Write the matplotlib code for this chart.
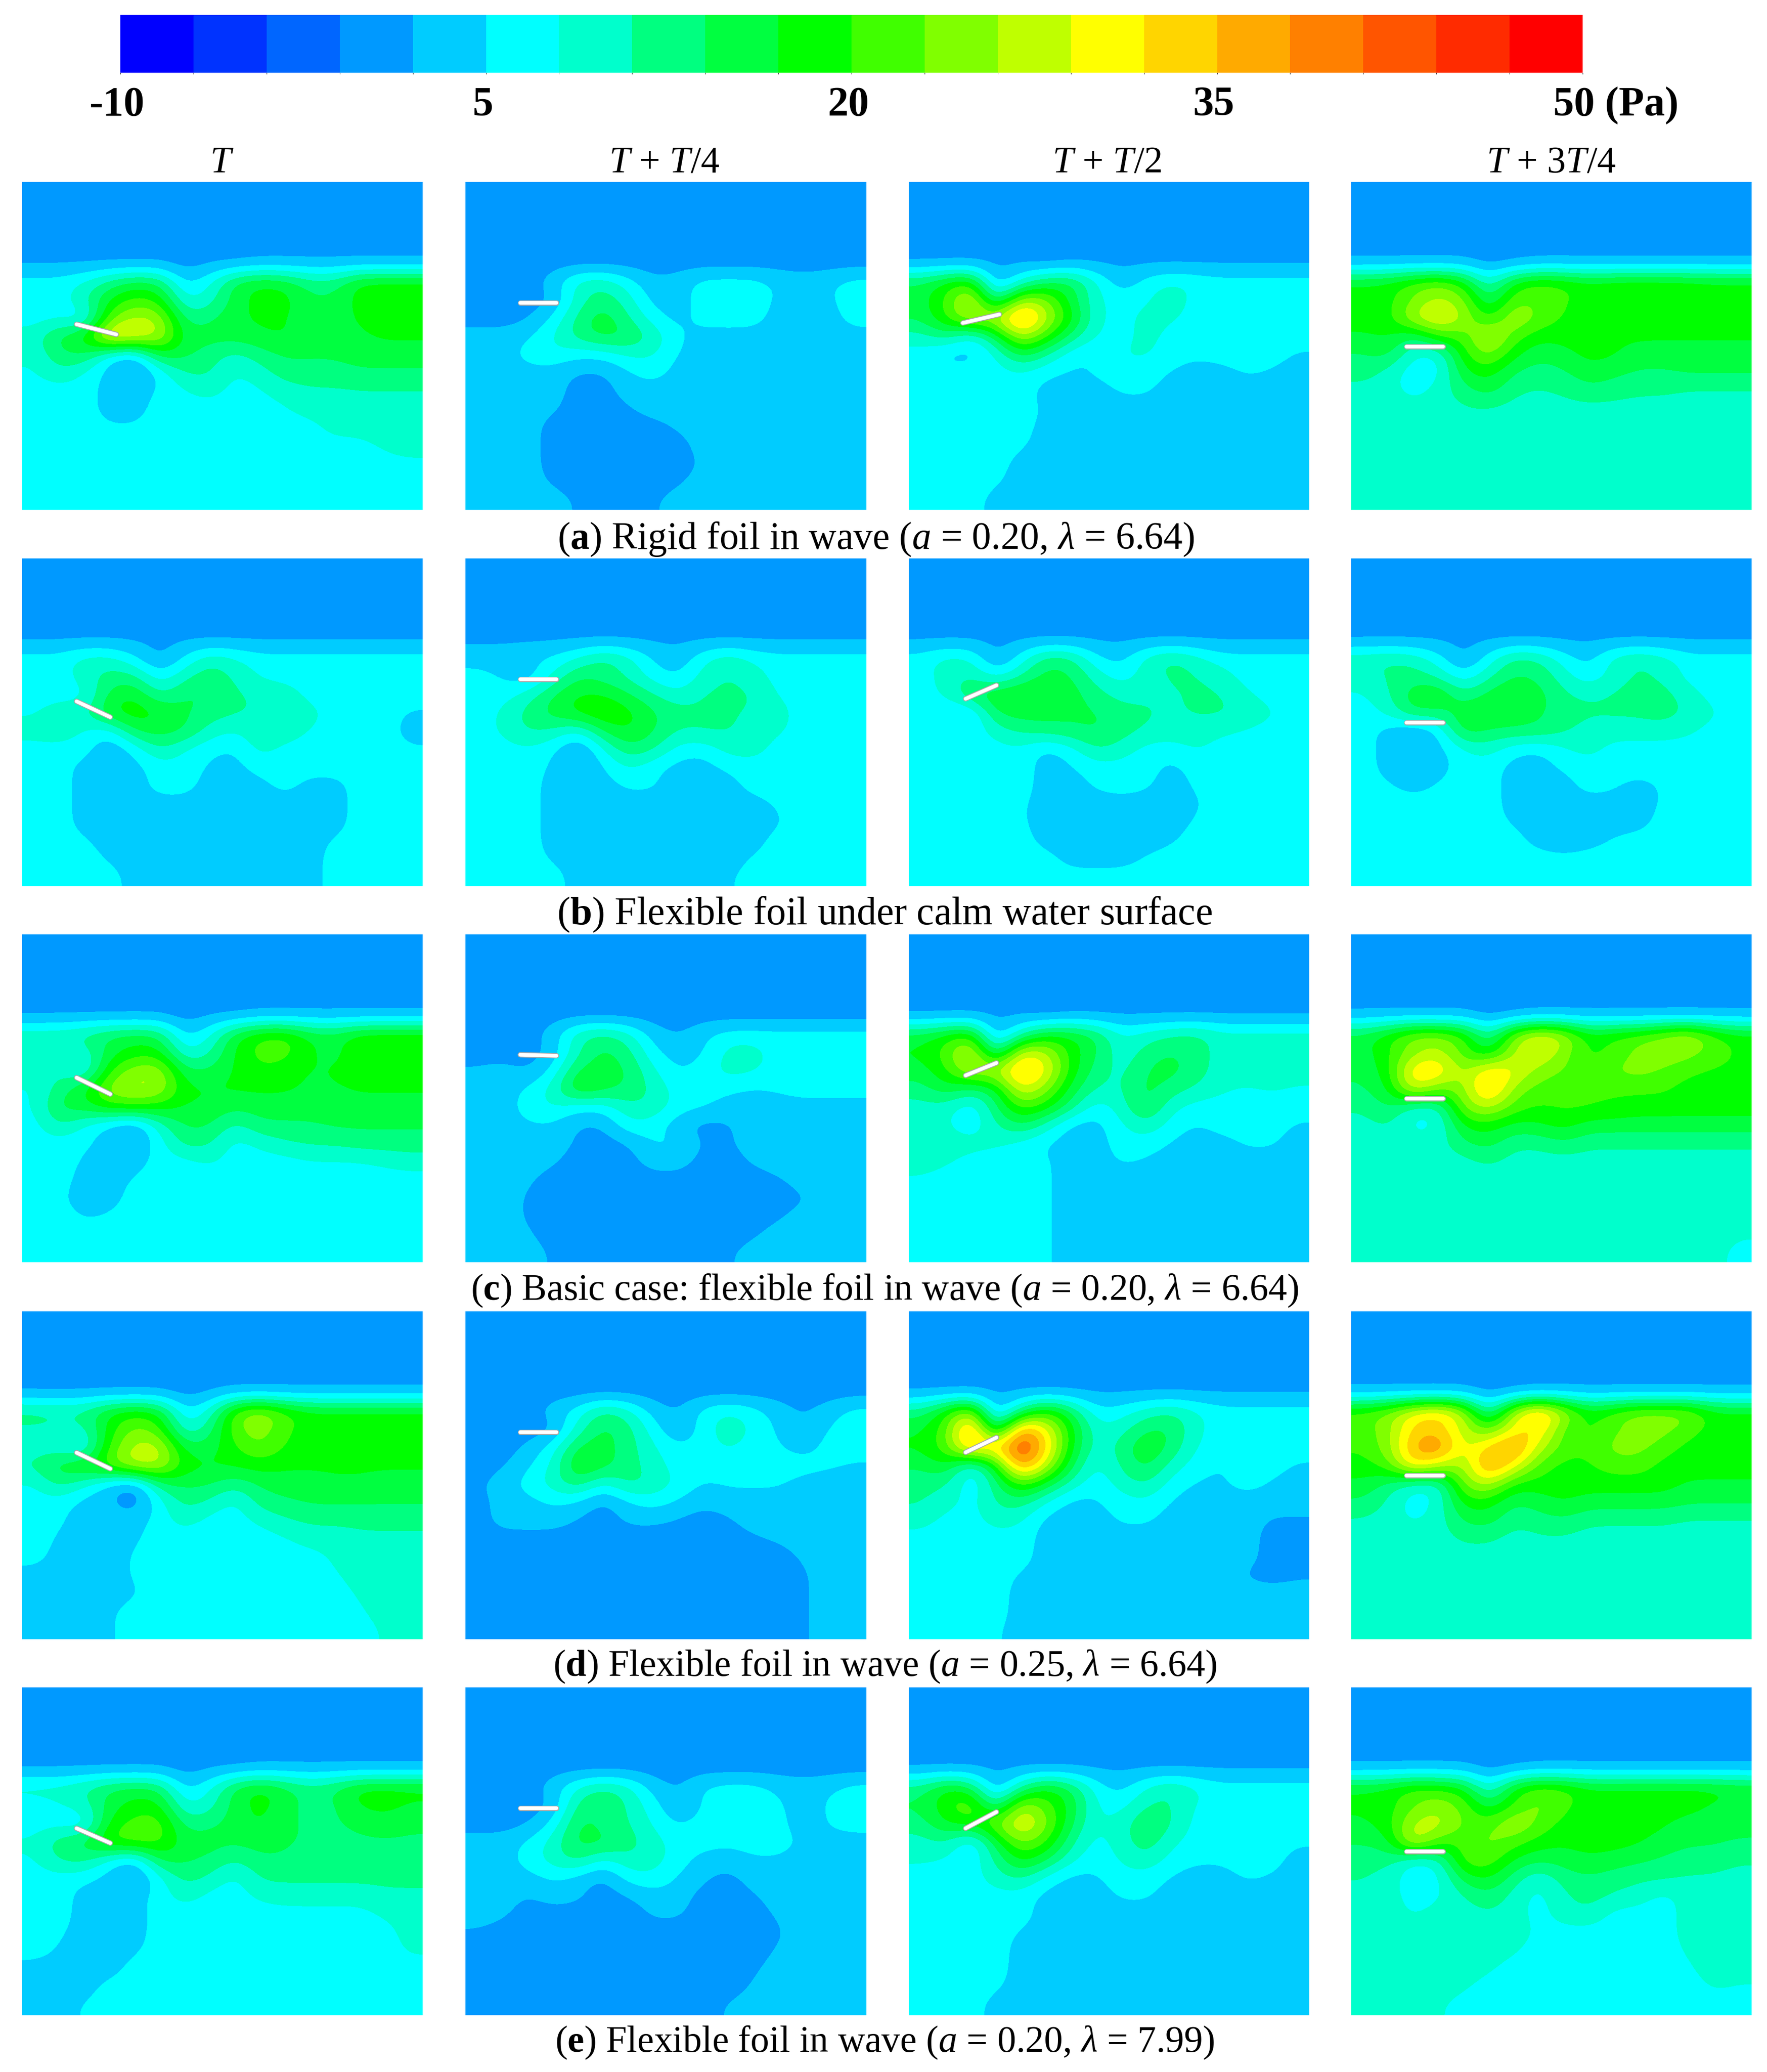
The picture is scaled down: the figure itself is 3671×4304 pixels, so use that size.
import numpy as np
import matplotlib
matplotlib.use("Agg")
import matplotlib.pyplot as plt
from matplotlib.colors import ListedColormap, BoundaryNorm
from matplotlib.cm import ScalarMappable

plt.rcParams['font.family'] = ['Liberation Serif', 'DejaVu Serif']
plt.rcParams['mathtext.fontset'] = 'custom'
plt.rcParams['mathtext.rm'] = 'Liberation Serif'
plt.rcParams['mathtext.it'] = 'Liberation Serif:italic'
plt.rcParams['mathtext.bf'] = 'Liberation Serif:bold'

W, H = 3671, 4304

band_colors = ['#0000ff', '#0033ff', '#0066ff', '#0099ff', '#00ccff', '#00ffff', '#00ffcc',
               '#00ff80', '#00ff40', '#00ff00', '#40ff00', '#80ff00', '#bfff00', '#ffff00',
               '#ffd500', '#ffaa00', '#ff8000', '#ff5500', '#ff2b00', '#ff0000']
levels = np.arange(-10, 51, 3)
tick_values = [-10, 5, 20, 35, 50]
tick_labels = ['-10', '5', '20', '35', '50 (Pa)']

col_titles = [r'$\mathit{T}$', r'$\mathit{T}$ + $\mathit{T}$/4', r'$\mathit{T}$ + $\mathit{T}$/2', r'$\mathit{T}$ + 3$\mathit{T}$/4']
captions = [r'($\mathbf{a}$) Rigid foil in wave ($\mathit{a}$ = 0.20, $\mathit{λ}$ = 6.64)',
            r'($\mathbf{b}$) Flexible foil under calm water surface',
            r'($\mathbf{c}$) Basic case: flexible foil in wave ($\mathit{a}$ = 0.20, $\mathit{λ}$ = 6.64)',
            r'($\mathbf{d}$) Flexible foil in wave ($\mathit{a}$ = 0.25, $\mathit{λ}$ = 6.64)',
            r'($\mathbf{e}$) Flexible foil in wave ($\mathit{a}$ = 0.20, $\mathit{λ}$ = 7.99)']

# pressure (Pa), water part only, 16 columns x 14 rows
a_T = [[1,1,1,1,1,1,0,1,1,2,2,2,2,2,2,2],
       [6,6,8,12,15,14,3,7,15,17,16,12,12,18,18,18],
       [6,6,10,17,21,19,7,9,15,18,18,14,14,18,19,19],
       [6,7,4,22,27,26,12,13,16,17,17,14,15,17,18,18],
       [9,15,18,33,30,27,15,15,15,16,17,15,15,16,17,17],
       [8,13,14,5,2,16,14,12,9,12,14,14,14,15,15,15],
       [7,10,7,3,-1,5,11,11,7,9,12,12,12,13,13,13],
       [6,6,6,3,3,5,7,9,6,7,9,10,10,10,10,10],
       [6,6,6,3,3,6,6,6,6,6,7,9,9,10,10,10],
       [6,6,6,5,5,6,6,6,6,6,6,6,9,9,10,10],
       [6,6,6,6,6,6,6,6,6,6,6,6,6,6,8,10],
       [6,6,6,6,6,6,6,6,6,6,6,6,6,6,6,6],
       [6,6,6,6,6,6,6,6,6,6,6,6,6,6,6,6],
       [6,6,6,6,6,6,6,6,6,6,6,6,6,6,6,6]]
a_T4 = [[0,0,0,0,0,0,0,0,0,0,0,0,0,0,0,0],
        [0,0,0,3,9,10,6,2,3,6,6,6,4,3,4,6],
        [0,0,0,1,9,13,9,3,3,6,6,6,4,3,4,6],
        [0,0,1,5,12,16,11,6,3,6,6,6,3,3,3,6],
        [3,3,4,8,12,15,14,10,5,3,3,3,3,3,3,3],
        [3,3,6,7,5,5,8,8,4,3,3,3,3,3,3,3],
        [3,3,3,3,1,1,4,6,3,3,3,3,3,3,3,3],
        [3,3,3,3,0,0,3,3,3,3,3,3,3,3,3,3],
        [3,3,3,2,0,0,1,3,3,3,3,3,3,3,3,3],
        [3,3,3,0,0,0,0,0,2,3,3,3,3,3,3,3],
        [3,3,3,0,0,0,0,0,0,3,3,3,3,3,3,3],
        [3,3,3,0,0,0,0,0,0,2,3,3,3,3,3,3],
        [3,3,3,1,0,0,0,0,1,3,3,3,3,3,3,3],
        [3,3,3,3,1,0,0,1,3,3,3,3,3,3,3,3]]
a_T2 = [[1,1,1,1,1,0,1,1,1,1,1,1,1,1,1,1],
        [14,18,21,0,8,14,15,8,2,6,8,7,6,6,6,6],
        [15,20,30,9,27,24,15,8,6,7,10,6,6,6,6,6],
        [14,20,27,27,39,27,18,8,6,9,8,6,6,6,6,6],
        [9,12,5,14,27,20,12,7,6,9,6,6,6,6,6,6],
        [6,3,3,7,15,10,5,4,8,8,6,5,6,6,6,4],
        [6,6,6,6,7,5,4,5,6,6,4,3,3,5,4,3],
        [6,6,6,6,6,3,3,3,5,5,3,3,3,3,3,3],
        [6,6,6,6,6,4,3,3,3,3,3,3,3,3,3,3],
        [6,6,6,6,6,3,3,3,3,3,3,3,3,3,3,3],
        [6,6,6,6,5,3,3,3,3,3,3,3,3,3,3,3],
        [6,6,6,6,3,3,3,3,3,3,3,3,3,3,3,3],
        [6,6,6,5,3,3,3,3,3,3,3,3,3,3,3,3],
        [6,6,6,3,3,3,3,3,3,3,3,3,3,3,3,3]]
a_3T4 = [[2,2,2,2,2,0,1,2,2,2,2,2,2,2,2,2],
         [17,18,21,23,19,7,18,21,20,18,19,19,19,19,18,18],
         [18,18,23,27,24,12,22,22,20,18,19,19,19,18,18,18],
         [18,18,27,31,26,18,27,22,19,18,18,18,18,18,18,18],
         [16,17,12,20,20,29,21,17,18,18,17,17,17,17,17,17],
         [13,15,7,6,19,24,17,14,15,18,17,15,15,15,15,15],
         [12,9,5,6,16,18,13,12,13,15,14,13,13,14,14,14],
         [9,9,6,9,12,15,11,10,11,13,12,11,11,10,10,10],
         [9,9,9,9,10,10,9,9,9,9,9,9,9,9,9,9],
         [9,9,9,9,9,9,9,9,9,9,9,9,9,9,9,9],
         [9,9,9,9,9,9,9,9,9,9,9,9,9,9,9,9],
         [9,9,9,9,9,9,9,9,9,9,9,9,9,9,9,9],
         [9,9,9,9,9,9,9,9,9,9,9,9,9,9,9,9],
         [9,9,9,9,9,9,9,9,9,9,9,9,9,9,9,9]]

b_T = [[1,1,1,1,1,1,1,1,1,1,1,1,1,1,1,1],
       [6,6,9,9,5,0,5,10,8,6,6,6,6,6,6,6],
       [6,6,9,12,12,5,10,13,10,7,6,6,6,6,6,6],
       [6,6,6,15,17,10,14,14,11,10,10,6,6,6,6,6],
       [7,10,10,17,19,17,14,12,11,10,10,9,6,6,6,4],
       [9,10,7,5,14,15,14,9,7,10,10,7,6,6,6,3],
       [6,6,6,1,5,11,7,5,4,9,6,6,6,6,6,5],
       [6,6,3,3,3,6,6,4,3,6,6,6,6,6,6,6],
       [6,6,3,3,3,6,6,3,3,3,6,3,3,6,6,6],
       [6,6,3,3,3,3,3,3,3,3,3,3,3,6,6,6],
       [6,6,3,3,3,3,3,3,3,3,3,3,3,6,6,6],
       [6,6,5,3,3,3,3,3,3,3,3,3,5,6,6,6],
       [6,6,6,4,3,3,3,3,3,3,3,3,6,6,6,6],
       [6,6,6,6,3,3,3,3,3,3,3,3,6,6,6,6]]
b_T4 = [[1,1,1,1,1,1,1,1,1,1,1,1,1,1,1,1],
        [3,3,4,5,8,12,9,4,2,7,10,7,6,6,6,6],
        [6,4,2,8,14,12,10,6,4,9,11,9,6,6,6,6],
        [6,6,9,14,17,17,14,11,8,11,11,11,7,6,6,6],
        [6,8,12,15,18,20,18,14,12,11,11,10,9,6,6,6],
        [6,8,11,10,6,14,17,14,10,11,11,9,8,6,6,6],
        [6,6,7,5,0,7,13,11,6,5,9,9,6,6,6,6],
        [6,6,6,4,1,4,8,5,3,3,5,6,6,6,6,6],
        [6,6,6,3,3,3,5,5,3,3,3,6,6,6,6,6],
        [6,6,6,3,3,3,3,3,3,3,3,3,5,6,6,6],
        [6,6,6,3,3,3,3,3,3,3,3,3,4,6,6,6],
        [6,6,6,3,3,3,3,3,3,3,3,3,6,6,6,6],
        [6,6,6,4,3,3,3,3,3,3,3,5,6,6,6,6],
        [6,6,6,6,3,3,3,3,3,3,4,6,6,6,6,6]]
b_T2 = [[1,1,1,1,1,1,1,1,1,1,1,1,1,1,1,1],
        [6,9,8,0,6,13,12,5,3,9,12,9,6,6,6,6],
        [6,9,11,6,11,15,14,9,6,9,11,11,9,6,6,6],
        [6,8,14,17,18,17,15,12,9,10,10,11,11,8,6,6],
        [6,4,3,14,15,15,14,14,12,11,10,11,11,10,8,6],
        [6,5,5,9,11,12,13,14,12,10,9,9,8,7,6,6],
        [6,6,6,6,7,3,6,11,9,6,6,8,6,6,6,6],
        [6,6,6,6,6,3,4,6,6,6,3,6,6,6,6,6],
        [6,6,6,6,6,3,3,5,6,5,3,5,6,6,6,6],
        [6,6,6,6,5,3,3,3,3,3,3,4,6,6,6,6],
        [6,6,6,6,5,3,3,3,3,3,3,5,6,6,6,6],
        [6,6,6,6,6,3,3,3,3,3,4,6,6,6,6,6],
        [6,6,6,6,6,6,3,3,3,5,6,6,6,6,6,6],
        [6,6,6,6,6,6,6,6,6,6,6,6,6,6,6,6]]
b_3T4 = [[1,1,1,1,1,1,1,1,1,1,1,1,1,1,1,1],
         [10,11,10,6,0,6,12,11,6,3,9,11,9,6,6,6],
         [9,11,12,10,5,10,14,13,9,5,9,11,10,6,6,6],
         [7,10,16,18,11,15,17,15,11,10,11,12,12,9,6,6],
         [6,8,14,12,16,17,16,14,12,11,11,11,12,10,8,6],
         [6,3,0,4,16,13,13,13,11,9,9,9,9,8,6,6],
         [6,3,3,3,7,9,5,4,7,9,6,6,6,6,6,6],
         [6,3,3,3,6,6,3,3,5,6,6,6,6,6,6,6],
         [6,5,3,5,6,6,3,3,3,6,5,3,5,6,6,6],
         [6,6,6,6,6,6,3,3,3,3,3,3,5,6,6,6],
         [6,6,6,6,6,6,4,3,3,3,3,3,6,6,6,6],
         [6,6,6,6,6,6,6,3,3,3,5,6,6,6,6,6],
         [6,6,6,6,6,6,6,6,5,6,6,6,6,6,6,6],
         [6,6,6,6,6,6,6,6,6,6,6,6,6,6,6,6]]

c_T = [[1,1,1,1,1,1,0,1,1,2,2,2,2,2,2,2],
       [10,10,12,14,15,14,3,7,16,20,21,16,15,19,19,19],
       [10,10,8,15,18,18,7,10,17,21,21,17,15,19,19,19],
       [9,10,5,20,25,26,14,14,17,19,18,16,17,18,18,18],
       [7,12,17,25,27,26,17,17,17,17,17,16,16,17,17,17],
       [7,15,15,19,19,18,16,16,14,15,15,15,15,15,15,15],
       [6,11,7,3,0,9,14,14,9,13,13,13,14,14,14,14],
       [6,6,5,3,1,6,12,11,6,8,10,11,11,12,12,12],
       [6,6,4,3,3,6,6,8,6,6,6,7,7,7,8,9],
       [6,6,3,3,5,6,6,6,6,6,6,6,6,6,6,6],
       [6,5,3,3,6,6,6,6,6,6,6,6,6,6,6,6],
       [6,6,4,5,6,6,6,6,6,6,6,6,6,6,6,6],
       [6,6,6,6,6,6,6,6,6,6,6,6,6,6,6,6],
       [6,6,6,6,6,6,6,6,6,6,6,6,6,6,6,6]]
c_T4 = [[0,0,0,0,0,0,0,0,0,0,0,0,0,0,0,0],
        [0,0,0,3,10,12,9,3,1,4,6,6,6,6,6,6],
        [0,0,0,2,10,15,12,5,3,4,9,9,6,6,6,6],
        [2,3,1,5,15,15,14,8,4,6,9,8,6,6,6,6],
        [3,3,5,9,18,15,13,10,6,6,5,4,5,6,6,6],
        [3,3,6,8,5,5,10,10,6,5,3,3,3,3,3,3],
        [3,3,4,4,1,1,7,6,2,0,1,3,3,3,3,3],
        [3,3,3,3,1,0,1,5,5,1,1,3,3,3,3,3],
        [3,3,3,2,0,0,0,3,3,0,0,2,3,3,3,3],
        [3,3,2,0,0,0,0,0,0,0,0,0,1,3,3,3],
        [3,3,1,0,0,0,0,0,0,0,0,0,0,1,3,3],
        [3,3,1,0,0,0,0,0,0,0,0,0,1,3,3,3],
        [3,3,2,0,0,0,0,0,0,0,0,1,3,3,3,3],
        [3,3,3,1,0,0,0,0,0,0,1,3,3,3,3,3]]
c_T2 = [[1,1,1,1,1,0,1,1,1,1,1,1,1,1,1,1],
        [15,18,21,0,10,17,17,14,7,9,11,12,9,9,9,9],
        [17,21,30,9,30,27,18,14,8,12,14,12,9,9,9,9],
        [15,19,27,27,36,30,18,12,9,14,15,12,9,9,9,9],
        [12,16,12,15,30,24,15,10,10,15,12,10,8,7,8,7],
        [9,9,4,13,21,18,12,5,9,15,8,6,6,6,6,6],
        [9,8,5,10,14,9,3,3,7,10,6,4,6,6,6,4],
        [10,9,9,8,6,4,3,3,6,6,4,3,3,5,5,3],
        [9,8,6,6,6,5,3,3,5,4,3,3,3,3,3,3],
        [7,6,6,6,6,5,3,3,3,3,3,3,3,3,3,3],
        [6,6,6,6,6,5,3,3,3,3,3,3,3,3,3,3],
        [6,6,6,6,6,5,3,3,3,3,3,3,3,3,3,3],
        [6,6,6,6,6,5,3,3,3,3,3,3,3,3,3,3],
        [6,6,6,6,6,5,3,3,3,3,3,3,3,3,3,3]]
c_3T4 = [[2,2,2,2,2,0,1,2,2,2,2,2,2,2,2,2],
         [15,19,24,24,21,9,24,30,27,18,20,21,24,27,21,18],
         [15,19,24,27,21,15,26,30,24,18,20,24,25,24,21,19],
         [14,18,33,33,24,33,30,24,22,21,23,24,22,20,19,19],
         [13,16,30,22,24,36,24,21,21,20,20,20,20,18,18,18],
         [11,14,8,8,24,27,21,19,20,20,19,18,18,18,18,18],
         [9,11,6,7,17,18,15,16,18,15,15,15,15,15,15,15],
         [9,9,9,9,13,15,11,11,13,11,11,11,11,11,11,11],
         [9,9,9,9,9,11,9,9,9,9,9,9,9,9,9,9],
         [9,9,9,9,9,9,9,9,9,9,9,9,9,9,9,9],
         [9,9,9,9,9,9,9,9,9,9,9,9,9,9,9,9],
         [9,9,9,9,9,9,9,9,9,9,9,9,9,9,9,9],
         [9,9,9,9,9,9,9,9,9,9,9,9,9,9,9,8],
         [9,9,9,9,9,9,9,9,9,9,9,9,9,9,9,6]]

d_T = [[1,1,1,1,1,1,0,1,2,2,2,2,2,2,2,2],
       [12,11,12,17,19,17,4,8,22,26,21,18,18,18,18,18],
       [10,10,9,18,24,21,7,12,22,25,20,18,18,18,18,18],
       [9,8,5,21,27,28,15,15,19,23,19,18,18,18,18,18],
       [11,16,18,22,28,27,18,17,17,18,17,17,17,17,17,17],
       [7,12,8,3,-1,13,14,14,11,14,15,15,16,16,15,15],
       [6,6,3,2,-1,6,12,10,6,12,13,14,14,14,14,14],
       [6,5,3,3,3,6,9,6,6,8,10,11,11,11,11,11],
       [6,4,3,3,4,6,6,6,6,6,7,9,9,10,10,10],
       [6,3,3,3,5,6,6,6,6,6,6,6,8,10,10,10],
       [3,3,3,3,5,6,6,6,6,6,6,6,7,9,10,10],
       [3,3,3,3,4,6,6,6,6,6,6,6,6,8,9,10],
       [3,3,3,4,6,6,6,6,6,6,6,6,6,7,9,10],
       [3,3,3,4,6,6,6,6,6,6,6,6,6,6,8,9]]
d_T4 = [[0,0,0,0,0,0,0,0,0,0,0,0,0,0,0,0],
        [0,0,0,3,6,12,9,3,1,6,8,6,3,1,3,6],
        [0,0,0,0,9,15,12,6,1,6,10,7,4,1,5,6],
        [0,0,2,6,15,15,12,8,5,6,8,6,5,3,6,6],
        [0,1,4,8,18,15,12,9,6,6,6,6,6,6,5,4],
        [1,3,6,9,13,6,12,10,7,4,5,5,5,3,3,3],
        [0,3,3,5,4,0,4,6,4,2,3,3,3,3,3,3],
        [0,3,3,3,1,0,2,2,1,0,1,3,3,3,3,3],
        [0,0,0,0,0,0,0,0,0,0,0,1,2,3,3,3],
        [0,0,0,0,0,0,0,0,0,0,0,0,0,2,3,3],
        [0,0,0,0,0,0,0,0,0,0,0,0,0,1,3,3],
        [0,0,0,0,0,0,0,0,0,0,0,0,0,1,3,3],
        [0,0,0,0,0,0,0,0,0,0,0,0,0,1,3,3],
        [0,0,0,0,0,0,0,0,0,0,0,0,0,1,3,3]]
d_T2 = [[1,1,1,1,1,1,1,1,1,1,1,1,1,1,1,1],
        [12,19,27,0,12,21,14,5,6,9,11,8,6,6,6,6],
        [16,21,39,9,39,30,18,8,9,14,14,8,6,6,6,6],
        [17,21,36,33,45,33,17,8,12,17,13,7,6,6,6,6],
        [14,17,5,17,39,27,14,6,11,15,9,6,4,6,6,4],
        [11,11,4,12,21,15,9,5,9,11,6,4,4,6,4,3],
        [11,9,6,11,12,7,3,4,6,7,4,3,3,3,3,3],
        [9,6,6,9,8,3,3,3,5,5,3,3,3,3,1,1],
        [6,6,6,6,6,3,3,3,3,3,3,3,3,3,0,0],
        [6,6,6,6,6,3,3,3,3,3,3,3,3,3,0,0],
        [6,6,6,6,4,3,3,3,3,3,3,3,3,1,0,1],
        [6,6,6,6,3,3,3,3,3,3,3,3,3,3,3,3],
        [6,6,6,6,3,3,3,3,3,3,3,3,3,3,3,3],
        [6,6,6,5,3,3,3,3,3,3,3,3,3,3,3,3]]
d_3T4 = [[2,2,2,2,2,0,1,2,2,2,2,2,2,2,2,2],
         [21,24,30,33,27,7,27,36,27,18,21,24,24,24,18,18],
         [21,24,33,33,27,21,30,33,21,18,22,24,24,21,18,18],
         [20,24,36,40,27,33,39,27,21,20,24,24,21,18,18,18],
         [18,21,33,27,24,39,30,21,18,19,21,21,18,18,18,18],
         [16,12,8,7,24,27,18,18,18,18,18,18,18,16,16,16],
         [13,10,5,8,18,18,13,15,17,15,15,15,15,14,14,14],
         [10,9,7,9,14,15,11,12,13,11,11,11,11,10,10,10],
         [9,9,9,9,11,11,9,10,10,9,9,9,9,9,9,9],
         [9,9,9,9,9,9,9,9,9,9,9,9,9,9,9,9],
         [9,9,9,9,9,9,9,9,9,9,9,9,9,9,9,9],
         [9,9,9,9,9,9,9,9,9,9,9,9,9,9,9,9],
         [9,9,9,9,9,9,9,9,9,9,9,9,9,9,9,9],
         [9,9,9,9,9,9,9,9,9,9,9,9,9,9,9,9]]

e_T = [[1,1,1,1,1,1,0,1,1,2,2,2,2,2,2,2],
       [9,9,11,14,15,14,3,7,15,18,15,12,14,18,18,18],
       [6,7,9,15,18,18,7,9,15,18,15,12,13,17,18,16],
       [6,6,4,18,21,22,12,13,15,17,14,13,13,14,15,14],
       [8,13,15,21,22,21,15,15,14,15,14,13,13,13,13,13],
       [7,11,12,6,2,15,14,13,10,13,13,12,13,13,13,13],
       [6,6,5,3,0,6,12,10,6,11,11,11,11,11,11,11],
       [6,6,3,3,3,6,9,6,6,8,9,9,9,9,10,10],
       [6,6,3,3,3,6,6,6,6,6,6,6,6,6,8,9],
       [6,5,3,3,3,6,6,6,6,6,6,6,6,6,6,9],
       [6,4,3,3,4,6,6,6,6,6,6,6,6,6,6,8],
       [3,3,3,3,6,6,6,6,6,6,6,6,6,6,6,6],
       [3,3,3,6,6,6,6,6,6,6,6,6,6,6,6,6],
       [3,3,5,6,6,6,6,6,6,6,6,6,6,6,6,6]]
e_T4 = [[0,0,0,0,0,0,0,0,0,0,0,0,0,0,0,0],
        [0,0,0,3,8,11,9,3,1,5,6,6,4,3,4,6],
        [0,0,0,1,12,15,10,6,1,5,7,6,5,3,5,6],
        [0,0,1,5,15,12,11,7,4,6,6,6,6,2,5,6],
        [3,3,5,9,15,15,12,9,6,6,5,6,6,4,3,3],
        [3,3,6,9,12,6,10,9,6,3,3,4,4,3,3,3],
        [3,3,3,5,3,0,6,7,4,2,0,3,3,3,3,3],
        [3,3,1,3,2,0,1,3,3,0,0,1,3,3,3,3],
        [3,2,0,0,0,0,0,2,2,0,0,0,2,3,3,3],
        [1,0,0,0,0,0,0,0,0,0,0,0,1,3,3,3],
        [0,0,0,0,0,0,0,0,0,0,0,0,2,3,3,3],
        [0,0,0,0,0,0,0,0,0,0,0,1,3,3,3,3],
        [0,0,0,0,0,0,0,0,0,0,0,2,3,3,3,3],
        [0,0,0,0,0,0,0,0,0,0,2,3,3,3,3,3]]
e_T2 = [[1,1,1,1,1,1,1,1,1,1,1,1,1,1,1,1],
        [12,18,15,0,11,18,14,6,3,8,11,8,6,6,6,6],
        [14,19,24,9,27,21,16,7,6,11,11,7,6,6,6,6],
        [12,17,18,24,31,24,14,7,9,14,11,6,6,6,6,6],
        [9,11,3,15,24,20,11,6,9,13,8,6,6,6,6,5],
        [8,7,5,11,18,14,8,5,8,10,6,5,5,6,6,3],
        [6,6,6,9,11,6,3,4,6,6,4,3,3,5,4,3],
        [6,6,6,6,6,3,3,3,5,5,3,3,3,3,3,3],
        [6,6,6,6,6,3,3,3,3,3,3,3,3,3,3,3],
        [6,6,6,6,4,3,3,3,3,3,3,3,3,3,3,3],
        [6,6,6,6,3,3,3,3,3,3,3,3,3,3,3,3],
        [6,6,6,6,3,3,3,3,3,3,3,3,3,3,3,3],
        [6,6,6,5,3,3,3,3,3,3,3,3,3,3,3,3],
        [6,6,6,3,3,3,3,3,3,3,3,3,3,3,3,3]]
e_3T4 = [[2,2,2,2,2,0,1,2,2,2,2,2,2,2,2,2],
         [17,18,21,20,18,6,18,22,21,18,18,18,18,18,18,17],
         [17,18,22,25,22,14,20,24,21,17,18,18,18,18,16,15],
         [16,18,27,28,22,21,27,22,18,17,18,18,17,15,15,15],
         [14,15,30,20,20,24,21,18,17,18,18,17,15,14,14,13],
         [11,12,6,8,22,22,16,14,15,16,15,14,13,12,12,11],
         [11,9,5,6,15,17,12,7,12,13,12,11,11,10,10,9],
         [9,9,6,7,10,13,9,6,10,12,10,9,6,9,9,9],
         [9,9,7,9,9,10,9,6,9,10,6,6,6,9,9,9],
         [9,9,9,9,9,9,9,7,6,6,6,6,6,9,9,9],
         [9,9,9,9,9,9,8,6,6,6,6,6,6,8,9,9],
         [9,9,9,9,9,8,6,6,6,6,6,6,6,7,9,9],
         [9,9,9,9,8,6,6,6,6,6,6,6,6,6,8,7],
         [9,9,9,8,6,6,6,6,6,6,6,6,6,6,6,6]]

fields = [[a_T, a_T4, a_T2, a_3T4],
          [b_T, b_T4, b_T2, b_3T4],
          [c_T, c_T4, c_T2, c_3T4],
          [d_T, d_T4, d_T2, d_3T4],
          [e_T, e_T4, e_T2, e_3T4]]

# foil ends in panel fractions (x0, y0, x1, y1)
foils = [[(.136,.434,.235,.465), (.137,.369,.227,.369), (.135,.43,.226,.404), (.138,.502,.229,.502)],
         [(.136,.436,.22,.484), (.137,.368,.227,.368), (.142,.428,.219,.387), (.138,.50,.229,.50)],
         [(.136,.437,.22,.487), (.137,.367,.227,.37), (.142,.43,.219,.392), (.138,.50,.229,.50)],
         [(.136,.431,.22,.48), (.137,.368,.227,.368), (.142,.43,.219,.385), (.138,.50,.229,.50)],
         [(.136,.43,.22,.475), (.137,.368,.227,.368), (.142,.43,.219,.38), (.138,.50,.229,.50)]]

col_left = [46, 967, 1888, 2807]
panel_w = 832
row_top = [378, 1160, 1941, 2724, 3505]
panel_h = 681
caption_x = [1820, 1838, 1838, 1838, 1838]
caption_y = [1120, 1900, 2681, 3462, 4243]
caption_size = [57.3, 58.7, 56, 56, 56]
title_x = [461, 1380, 2300, 3223]
title_y = 339

AIR_ROWS = 4
AIR_VALUE = 0.5
BAND_CENTRE = 0.5   # readings are lower-third of a band, move them to its middle

cmap = ListedColormap(band_colors)
norm = BoundaryNorm(levels, cmap.N)


def px_axes(fig, left, top, width, height):
    return fig.add_axes([left / W, 1 - (top + height) / H, width / W, height / H])


fig = plt.figure(figsize=(W / 100, H / 100), dpi=100)

# colour bar
cax = px_axes(fig, 250, 31, 3038, 120)
cb = fig.colorbar(ScalarMappable(norm=norm, cmap=cmap), cax=cax, orientation='horizontal',
                  spacing='proportional', drawedges=False)
cb.outline.set_visible(False)
cb.set_ticks([])
for v, lab in zip(tick_values, tick_labels):
    xp = 243 + (v + 10) / 60 * 3038
    ha = 'left' if lab.endswith(')') else 'center'
    if ha == 'left':
        xp -= 54
    fig.text(xp / W, 1 - 219 / H, lab, ha=ha, va='center', fontsize=62, fontweight='bold')

for i, row in enumerate(fields):
    for j, water in enumerate(row):
        ax = px_axes(fig, col_left[j], row_top[i], panel_w, panel_h)
        z = np.vstack([np.full((AIR_ROWS, 16), AIR_VALUE), np.array(water, dtype=float) + BAND_CENTRE])
        ax.imshow(z, extent=(0, 1, 1, 0), aspect='auto', cmap=cmap, norm=norm,
                  interpolation='bicubic', interpolation_stage='data')
        x0, y0, x1, y1 = foils[i][j]
        ax.plot([x0, x1], [y0, y1], color='#a8a8a8', lw=8, solid_capstyle='round')
        ax.plot([x0, x1], [y0, y1], color='white', lw=5.5, solid_capstyle='round')
        ax.set_xlim(0, 1)
        ax.set_ylim(1, 0)
        ax.axis('off')
    fig.text(caption_x[i] / W, 1 - caption_y[i] / H, captions[i], ha='center', va='center',
             fontsize=caption_size[i])

for x, t in zip(title_x, col_titles):
    fig.text(x / W, 1 - title_y / H, t, ha='center', va='center', fontsize=56)

fig.savefig('out.png', dpi=100)
